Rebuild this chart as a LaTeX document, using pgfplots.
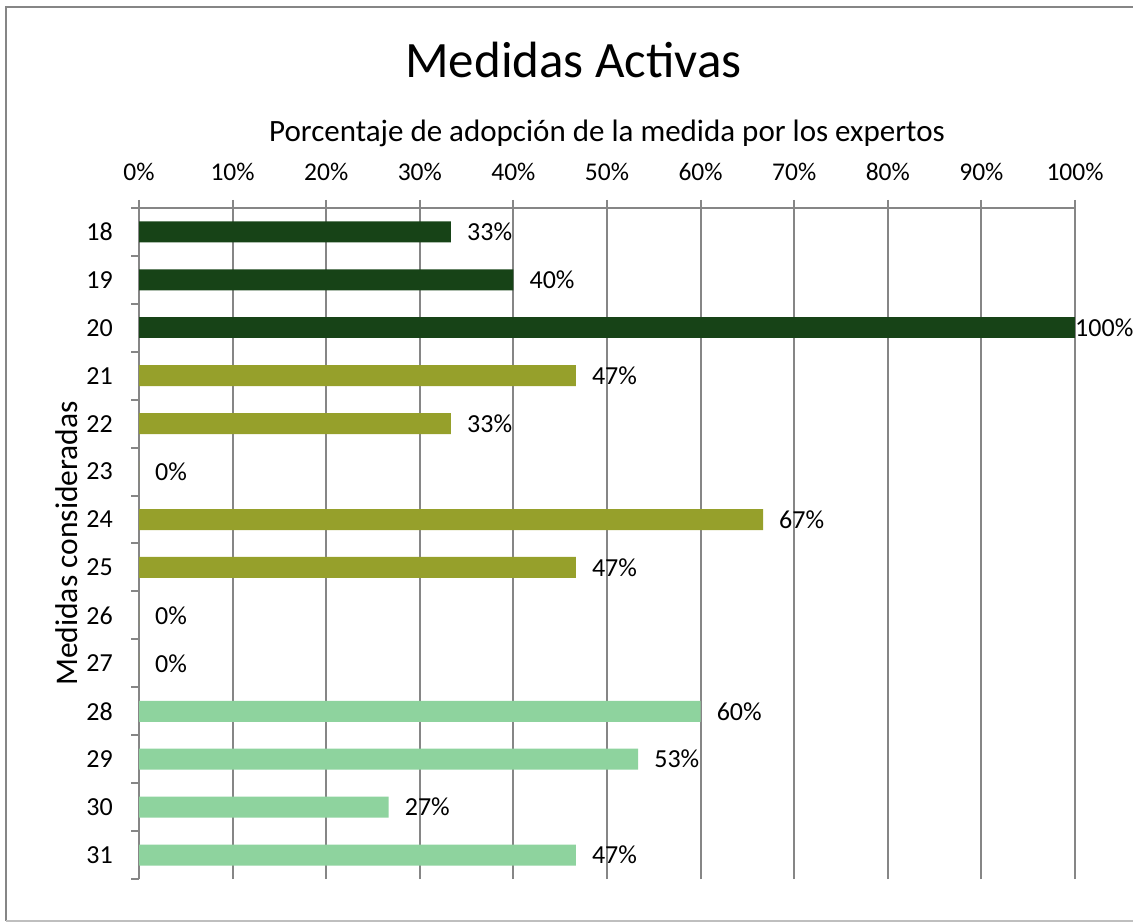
\documentclass[border=0pt]{standalone}
\usepackage{pgfplots}
\pgfplotsset{compat=1.18}
\usepackage{fontspec}
\setmainfont{Carlito}
\definecolor{dgreen}{RGB}{23,67,23}
\definecolor{olive}{RGB}{150,160,43}
\definecolor{lgreen}{RGB}{142,211,158}
\definecolor{gridgray}{RGB}{134,134,134}
\begin{document}
\begin{tikzpicture}[x=1pt,y=1pt]
\useasboundingbox (0,0) rectangle (1133,922);
\draw[gridgray, line width=2pt] (6,1.5) -- (6,915) -- (1133,915);
\draw[gray!50, line width=2pt] (6,1.5) -- (1133,1.5);
\begin{axis}[
  at={(139pt,43pt)}, anchor=south west,
  scale only axis, width=936pt, height=671pt,
  xmin=0, xmax=100, ymin=-0.5, ymax=13.5,
  axis x line=top, axis y line=left,
  axis line style={gridgray, line width=2pt, -},
  xtick={0,10,...,100},
  xticklabel={\pgfmathprintnumber{\tick}\%},
  /pgf/number format/assume math mode=true,
  xmajorgrids, grid style={gridgray, line width=2pt},
  tick style={gridgray, line width=2pt},
  major tick length=8pt,
  tick align=outside,
  xticklabel style={font=\fontsize{25.5}{30}\selectfont, anchor=base, inner sep=0pt, yshift=19pt},
  ytick={-0.5,0.5,...,13.5},
  y tick label as interval,
  yticklabels={31,30,29,28,27,26,25,24,23,22,21,20,19,18},
  yticklabel style={font=\fontsize{26}{30}\selectfont, anchor=east, inner sep=0pt, xshift=-18pt},
  xbar, bar width=21pt, bar shift=0pt,
  nodes near coords={\pgfmathprintnumber[fixed,precision=0]{\pgfplotspointmeta}\%},
  nodes near coords style={font=\fontsize{26}{30}\selectfont, anchor=west, inner sep=0pt, xshift=16pt, text=black},
  clip=false,
]
\addplot[fill=dgreen, draw=none] coordinates {(33.33,13) (40,12)};
\addplot[fill=dgreen, draw=none, nodes near coords style={xshift=-16pt}] coordinates {(100,11)};
\addplot[fill=olive, draw=none] coordinates {(46.67,10) (33.33,9) (0,8) (66.67,7) (46.67,6) (0,5) (0,4)};
\addplot[fill=lgreen, draw=none] coordinates {(60,3) (53.33,2) (26.67,1) (46.67,0)};
\end{axis}
\node[font=\fontsize{51}{60}\selectfont, anchor=base] at (573.5,844) {Medidas Activas};
\node[font=\fontsize{31}{37}\selectfont, anchor=base] at (607,780) {Porcentaje de adopción de la medida por los expertos};
\node[font=\fontsize{31.5}{37}\selectfont, anchor=base, rotate=90] at (77,378.5) {Medidas consideradas};
\end{tikzpicture}
\end{document}
